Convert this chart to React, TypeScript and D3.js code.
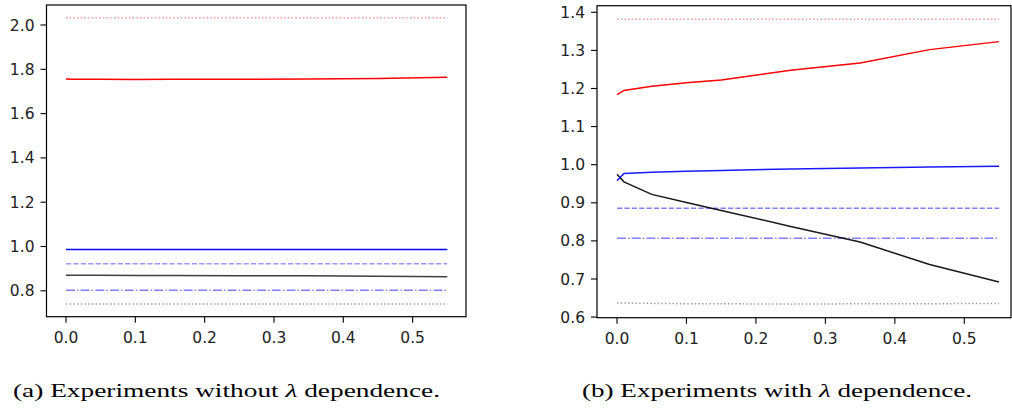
import React from "react";
import * as d3 from "d3";

// shared lambda grid
const xs = [0, 0.01, 0.05, 0.1, 0.15, 0.25, 0.35, 0.45, 0.55];

// (a) without lambda dependence
const aRedSolid = [1.756, 1.755, 1.755, 1.754, 1.755, 1.755, 1.756, 1.759, 1.764];
const aRedDotted = [2.033, 2.033, 2.033, 2.033, 2.033, 2.033, 2.033, 2.033, 2.033];
const aBlueSolid = [0.987, 0.987, 0.987, 0.987, 0.987, 0.987, 0.987, 0.987, 0.987];
const aBlueDashed = [0.922, 0.922, 0.922, 0.922, 0.922, 0.922, 0.922, 0.922, 0.922];
const aBlack = [0.870, 0.870, 0.870, 0.869, 0.869, 0.868, 0.868, 0.866, 0.864];
const aBlueDashDot = [0.802, 0.802, 0.802, 0.802, 0.802, 0.802, 0.802, 0.802, 0.802];
const aGrayDotted = [0.740, 0.740, 0.740, 0.740, 0.740, 0.740, 0.740, 0.740, 0.740];
const aYTicks = [0.8, 1.0, 1.2, 1.4, 1.6, 1.8, 2.0];

// (b) with lambda dependence
const bRedSolid = [1.184, 1.195, 1.206, 1.215, 1.222, 1.248, 1.267, 1.302, 1.323];
const bRedDotted = [1.382, 1.382, 1.382, 1.382, 1.382, 1.382, 1.382, 1.382, 1.382];
const bBlueSolid = [0.958, 0.977, 0.980, 0.983, 0.985, 0.989, 0.991, 0.994, 0.996];
const bBlueDashed = [0.886, 0.886, 0.886, 0.886, 0.886, 0.886, 0.886, 0.886, 0.886];
const bBlack = [0.975, 0.955, 0.922, 0.901, 0.880, 0.838, 0.797, 0.738, 0.692];
const bBlueDashDot = [0.807, 0.807, 0.807, 0.807, 0.807, 0.807, 0.807, 0.807, 0.807];
const bGrayDotted = [0.637, 0.637, 0.636, 0.635, 0.635, 0.634, 0.635, 0.635, 0.636];
const bYTicks = [0.6, 0.7, 0.8, 0.9, 1.0, 1.1, 1.2, 1.3, 1.4];

const xTicks = [0, 0.1, 0.2, 0.3, 0.4, 0.5];

const captionA = "Experiments without";
const captionB = "Experiments with";

type Series = { values: number[]; color: string; opacity: number; dash?: string };

const DOT = "1.4 2.3";
const DASH = "5.2 2.2";
const DASHDOT = "8.9 2.2 1.4 2.2";

function Panel(props: {
  left: number; right: number; top: number; bottom: number;
  xDomain: [number, number]; yDomain: [number, number];
  yTicks: number[]; yFmt: (v: number) => string; series: Series[];
}) {
  const { left, right, top, bottom, xDomain, yDomain, yTicks, yFmt, series } = props;
  const x = d3.scaleLinear().domain(xDomain).range([left, right]);
  const y = d3.scaleLinear().domain(yDomain).range([bottom, top]);
  const line = d3.line<number>().x((_, i) => x(xs[i])).y((d) => y(d));
  const tl = 6;
  const font = "DejaVu Sans";
  return (
    <g>
      <defs>
        <clipPath id={`clip${left}`}>
          <rect x={left} y={top} width={right - left} height={bottom - top} />
        </clipPath>
      </defs>
      <g clipPath={`url(#clip${left})`}>
        {series.map((s, i) => (
          <path key={i} d={line(s.values) || ""} fill="none" stroke={s.color}
            strokeOpacity={s.opacity} strokeWidth={1.5} strokeDasharray={s.dash} />
        ))}
      </g>
      <rect x={left} y={top} width={right - left} height={bottom - top}
        fill="none" stroke="#000" strokeWidth={1.2} />
      {yTicks.map((t) => (
        <g key={"y" + t}>
          <line x1={left - tl} x2={left} y1={y(t)} y2={y(t)} stroke="#000" strokeWidth={1.1} />
          <text x={left - tl - 6} y={y(t)} dy="0.36em" textAnchor="end"
            fontFamily={font} fontSize={15.5} fill="#222">{yFmt(t)}</text>
        </g>
      ))}
      {xTicks.map((t) => (
        <g key={"x" + t}>
          <line x1={x(t)} x2={x(t)} y1={bottom} y2={bottom + tl} stroke="#000" strokeWidth={1.1} />
          <text x={x(t)} y={bottom + tl + 20} textAnchor="middle"
            fontFamily={font} fontSize={15.5} fill="#222">{t.toFixed(1)}</text>
        </g>
      ))}
    </g>
  );
}

export default function App() {
  const seriesA: Series[] = [
    { values: aRedDotted, color: "#ff0000", opacity: 0.4, dash: DOT },
    { values: aRedSolid, color: "#ff0000", opacity: 1 },
    { values: aBlueSolid, color: "#0000ff", opacity: 1 },
    { values: aBlueDashed, color: "#0000ff", opacity: 0.4, dash: DASH },
    { values: aBlack, color: "#000000", opacity: 0.75 },
    { values: aBlueDashDot, color: "#0000ff", opacity: 0.5, dash: DASHDOT },
    { values: aGrayDotted, color: "#808080", opacity: 0.8, dash: DOT },
  ];
  const seriesB: Series[] = [
    { values: bRedDotted, color: "#ff0000", opacity: 0.4, dash: DOT },
    { values: bRedSolid, color: "#ff0000", opacity: 1 },
    { values: bBlueDashed, color: "#0000ff", opacity: 0.5, dash: DASH },
    { values: bBlueDashDot, color: "#0000ff", opacity: 0.5, dash: DASHDOT },
    { values: bGrayDotted, color: "#808080", opacity: 0.8, dash: DOT },
    { values: bBlack, color: "#000000", opacity: 0.9 },
    { values: bBlueSolid, color: "#0000ff", opacity: 0.9 },
  ];
  const capFont = "Liberation Serif";
  return (
    <svg width={1012} height={409} style={{ position: "absolute", left: 0, top: 0, background: "#fff" }}>
      <rect x={0} y={0} width={1012} height={409} fill="#fff" />
      <Panel left={46.5} right={466} top={5} bottom={316.7}
        xDomain={[-0.0281, 0.577]} yDomain={[0.6831, 2.0903]}
        yTicks={aYTicks} yFmt={(v) => v.toFixed(1)} series={seriesA} />
      <Panel left={597} right={1011} top={5.7} bottom={317.7}
        xDomain={[-0.0288, 0.5672]} yDomain={[0.5984, 1.4173]}
        yTicks={bYTicks} yFmt={(v) => v.toFixed(1)} series={seriesB} />
      <text x={13} y={397} fontFamily={capFont} fontSize={19.5} fill="#000"
        textLength={427} lengthAdjust="spacingAndGlyphs">
        (a) {captionA} <tspan fontStyle="italic">λ</tspan> dependence.
      </text>
      <text x={582} y={397} fontFamily={capFont} fontSize={19.5} fill="#000"
        textLength={390} lengthAdjust="spacingAndGlyphs">
        (b) {captionB} <tspan fontStyle="italic">λ</tspan> dependence.
      </text>
    </svg>
  );
}
